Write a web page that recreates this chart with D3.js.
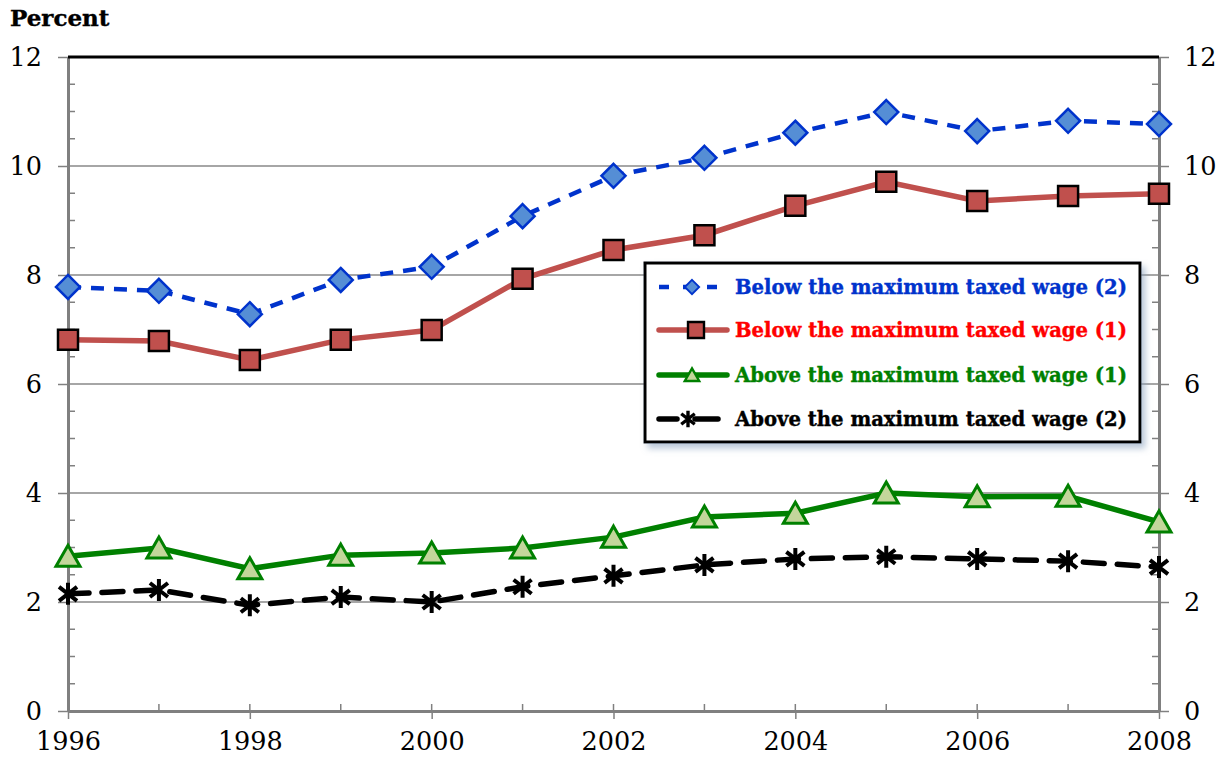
<!DOCTYPE html>
<html lang="en">
  <head>
    <meta charset="UTF-8" />
    <title>Percent below / above maximum taxed wage</title>
    <script src="https://d3js.org/d3.v7.min.js"></script>
    <style>
      body { margin: 0; background: #fff; }
      text { font-family: "DejaVu Serif", "Liberation Serif", serif; }
    </style>
  </head>
  <body>
    <svg id="chart" width="1228" height="762"></svg>
    <script>
      // data
      let years = [1996, 1997, 1998, 1999, 2000, 2001, 2002, 2003, 2004, 2005, 2006, 2007, 2008];
      let belowTwo = [7.78, 7.71, 7.28, 7.91, 8.15, 9.08, 9.82, 10.15, 10.61, 10.99, 10.64, 10.83, 10.77];
      let belowOne = [6.81, 6.79, 6.44, 6.81, 6.99, 7.93, 8.46, 8.73, 9.27, 9.71, 9.36, 9.45, 9.49];
      let aboveOne = [2.84, 2.99, 2.61, 2.86, 2.90, 2.99, 3.19, 3.56, 3.63, 4.00, 3.93, 3.94, 3.47];
      let aboveTwo = [2.15, 2.22, 1.94, 2.09, 2.00, 2.28, 2.48, 2.68, 2.79, 2.83, 2.79, 2.75, 2.64];
      let yTicks = [0, 2, 4, 6, 8, 10, 12];
      let xTicks = [1996, 1998, 2000, 2002, 2004, 2006, 2008];
      let seriesNames = [
        "Below the maximum taxed wage (2)",
        "Below the maximum taxed wage (1)",
        "Above the maximum taxed wage (1)",
        "Above the maximum taxed wage (2)"
      ];

      let svg = d3.select("#chart");
      let plotLeft = 68, plotRight = 1159, plotTop = 57, plotBottom = 711;

      let x = d3.scaleLinear().domain([1996, 2008]).range([plotLeft, plotRight]);
      let y = d3.scaleLinear().domain([0, 12]).range([plotBottom, plotTop]);

      let defs = svg.append("defs");
      let f = defs.append("filter").attr("id", "shadow")
        .attr("x", "-5%").attr("y", "-5%").attr("width", "115%").attr("height", "125%");
      f.append("feDropShadow").attr("dx", 4).attr("dy", 5).attr("stdDeviation", 3)
        .attr("flood-color", "#8ba3bf").attr("flood-opacity", 0.6);

      // gridlines
      svg.append("g")
        .selectAll("line")
        .data(yTicks.filter(d => d > 0 && d < 12))
        .enter()
        .append("line")
        .attr("x1", plotLeft).attr("x2", plotRight)
        .attr("y1", d => y(d)).attr("y2", d => y(d))
        .style("stroke", "#a6a6a6").style("stroke-width", 2);

      // minor ticks (every 0.5 on y, every year on x)
      let minorY = d3.range(0.5, 12, 0.5).filter(d => d % 2 !== 0);
      svg.append("g").selectAll("line").data(minorY).enter().append("line")
        .attr("x1", plotLeft).attr("x2", plotLeft + 7)
        .attr("y1", d => y(d)).attr("y2", d => y(d))
        .style("stroke", "#808080").style("stroke-width", 1.5);
      svg.append("g").selectAll("line").data(minorY).enter().append("line")
        .attr("x1", plotRight - 7).attr("x2", plotRight)
        .attr("y1", d => y(d)).attr("y2", d => y(d))
        .style("stroke", "#808080").style("stroke-width", 1.5);
      svg.append("g").selectAll("line").data(years.filter(d => d % 2 === 1)).enter().append("line")
        .attr("x1", d => x(d)).attr("x2", d => x(d))
        .attr("y1", plotBottom - 7).attr("y2", plotBottom)
        .style("stroke", "#808080").style("stroke-width", 1.5);

      // axes (left, right, bottom) using d3 axes
      let yLeft = d3.axisLeft(y).tickValues(yTicks).tickSizeInner(10).tickSizeOuter(0).tickPadding(16);
      let yRight = d3.axisRight(y).tickValues(yTicks).tickSizeInner(10).tickSizeOuter(0).tickPadding(15);
      let xBottom = d3.axisBottom(x).tickValues(xTicks).tickFormat(d3.format("d"))
        .tickSizeInner(8).tickSizeOuter(0).tickPadding(13);

      function styleAxis(g) {
        g.select(".domain").style("stroke", "#808080").style("stroke-width", 3);
        g.selectAll(".tick line").style("stroke", "#808080").style("stroke-width", 1.5);
        g.selectAll(".tick text")
          .style("font-family", "'DejaVu Serif', serif")
          .style("font-size", "25.5px").style("fill", "#000");
      }

      svg.append("g").attr("transform", "translate(" + plotLeft + ",0)").call(yLeft).call(styleAxis);
      svg.append("g").attr("transform", "translate(" + plotRight + ",0)").call(yRight).call(styleAxis);
      svg.append("g").attr("transform", "translate(0," + plotBottom + ")").call(xBottom).call(styleAxis);

      // major ticks cross the axes slightly
      svg.append("g").selectAll("line").data(xTicks).enter().append("line")
        .attr("x1", d => x(d)).attr("x2", d => x(d))
        .attr("y1", plotBottom - 7).attr("y2", plotBottom)
        .style("stroke", "#808080").style("stroke-width", 1.5);

      // top border
      svg.append("line")
        .attr("x1", plotLeft).attr("x2", plotRight)
        .attr("y1", plotTop).attr("y2", plotTop)
        .style("stroke", "#000").style("stroke-width", 3);

      svg.append("text")
        .attr("x", 10).attr("y", 26)
        .text("Percent")
        .style("font-size", "23px").style("font-weight", "bold")
        .style("stroke", "#000").style("stroke-width", 0.4);

      let line = d3.line().x((d, i) => x(years[i])).y(d => y(d));

      // series paths
      svg.append("path").datum(belowTwo).attr("d", line)
        .style("fill", "none").style("stroke", "#0033cc").style("stroke-width", 4.5)
        .style("stroke-dasharray", "13,10");
      svg.append("path").datum(belowOne).attr("d", line)
        .style("fill", "none").style("stroke", "#c0504d").style("stroke-width", 5.5);
      svg.append("path").datum(aboveOne).attr("d", line)
        .style("fill", "none").style("stroke", "#008000").style("stroke-width", 5.5);
      svg.append("path").datum(aboveTwo).attr("d", line)
        .style("fill", "none").style("stroke", "#000").style("stroke-width", 5.5)
        .style("stroke-dasharray", "21,13").style("stroke-linecap", "round");

      // markers
      let diamond = "M0,-12L12,0L0,12L-12,0Z";
      let square = "M-10,-10H10V10H-10Z";
      let triangle = "M0,-11L12,10H-12Z";
      let asterisk = "M0,-11V11M-9,-7L9,7M-9,7L9,-7";

      function markers(data, path, fill, stroke, width) {
        svg.append("g").selectAll("path").data(data).enter().append("path")
          .attr("transform", (d, i) => "translate(" + x(years[i]) + "," + y(d) + ")")
          .attr("d", path)
          .style("fill", fill).style("stroke", stroke).style("stroke-width", width)
          .style("stroke-linejoin", "miter");
      }
      markers(belowTwo, diamond, "#558ed5", "#0033cc", 2.5);
      markers(belowOne, square, "#c0504d", "#000", 2.5);
      markers(aboveOne, triangle, "#c3d69b", "#008000", 3);
      markers(aboveTwo, asterisk, "none", "#000", 4);

      // legend
      let lg = svg.append("g");
      lg.append("rect")
        .attr("x", 645).attr("y", 263).attr("width", 495).attr("height", 179)
        .style("fill", "#fff").style("stroke", "#000").style("stroke-width", 3)
        .attr("filter", "url(#shadow)");

      let rowY = [287, 330, 375, 419];
      let textColors = ["#0033cc", "#ff0000", "#008000", "#000"];
      let rows = lg.selectAll("g.row").data(seriesNames).enter().append("g")
        .attr("transform", (d, i) => "translate(0," + rowY[i] + ")");

      rows.append("text")
        .attr("x", 735).attr("y", 7)
        .text(d => d)
        .attr("textLength", 392).attr("lengthAdjust", "spacingAndGlyphs")
        .style("font-size", "19.5px").style("font-weight", "bold")
        .style("fill", (d, i) => textColors[i])
        .style("stroke", (d, i) => textColors[i]).style("stroke-width", 0.4);

      let r0 = d3.select(rows.nodes()[0]);
      r0.append("line").attr("x1", 659).attr("x2", 726).attr("y1", 0).attr("y2", 0)
        .style("stroke", "#0033cc").style("stroke-width", 4.5).style("stroke-dasharray", "10,14");
      r0.append("path").attr("transform", "translate(692,0) scale(0.6)").attr("d", diamond)
        .style("fill", "#558ed5").style("stroke", "#0033cc").style("stroke-width", 3);

      let r1 = d3.select(rows.nodes()[1]);
      r1.append("line").attr("x1", 659).attr("x2", 727).attr("y1", 0).attr("y2", 0)
        .style("stroke", "#c0504d").style("stroke-width", 5.5).style("stroke-linecap", "round");
      r1.append("path").attr("transform", "translate(696,0) scale(0.8)").attr("d", square)
        .style("fill", "#c0504d").style("stroke", "#000").style("stroke-width", 3);

      let r2 = d3.select(rows.nodes()[2]);
      r2.append("line").attr("x1", 659).attr("x2", 727).attr("y1", 0).attr("y2", 0)
        .style("stroke", "#008000").style("stroke-width", 5.5).style("stroke-linecap", "round");
      r2.append("path").attr("transform", "translate(692,0) scale(0.6)").attr("d", triangle)
        .style("fill", "#c3d69b").style("stroke", "#008000").style("stroke-width", 4);

      let r3 = d3.select(rows.nodes()[3]);
      r3.append("line").attr("x1", 659).attr("x2", 677).attr("y1", 0).attr("y2", 0)
        .style("stroke", "#000").style("stroke-width", 5.5).style("stroke-linecap", "round");
      r3.append("line").attr("x1", 695).attr("x2", 718).attr("y1", 0).attr("y2", 0)
        .style("stroke", "#000").style("stroke-width", 5.5).style("stroke-linecap", "round");
      r3.append("path").attr("transform", "translate(688,0) scale(0.75)").attr("d", asterisk)
        .style("fill", "none").style("stroke", "#000").style("stroke-width", 4.5);
    </script>
  </body>
</html>
